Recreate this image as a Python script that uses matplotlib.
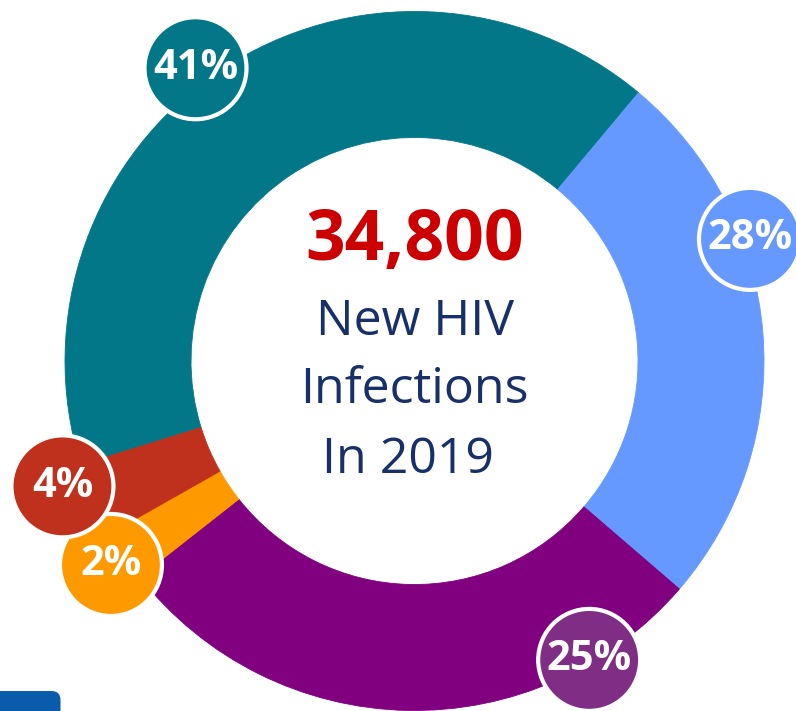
import numpy as np
import matplotlib.pyplot as plt
from matplotlib.patches import Circle, FancyBboxPatch

# slice order (clockwise from the left): teal, light blue, purple, orange, red
pct_labels = ["41%", "28%", "25%", "2%", "4%"]
# arc sizes as drawn in the picture (percent of the ring)
arc_shares = [40.9, 25.25, 28.1, 2.4, 3.4]
ring_colors = ["#017788", "#6699FF", "#800080", "#FF9900", "#BF311C"]
badge_colors = ["#017788", "#6699FF", "#7F2D85", "#FF9900", "#BF311C"]
# badge placement: (angle in degrees, distance from ring centre in px)
badge_polar = [(126.8, 365.6), (20.0, 357.0), (-59.7, 346.2), (-146.1, 365.7), (-160.4, 373.7)]

total = "34,800"
caption = ["New HIV", "Infections", "In 2019 "]

W, H = 796, 711
cx, cy = 414.5, H - 361
r_out, r_in = 349.5, 223.5

fig = plt.figure(figsize=(W / 100, H / 100), dpi=100)
ax = fig.add_axes([0, 0, 1, 1])

wedges, _ = ax.pie(arc_shares, colors=ring_colors, startangle=197.3, counterclock=False,
                   radius=r_out, center=(cx, cy),
                   wedgeprops=dict(width=r_out - r_in, linewidth=0.6))
for w, c in zip(wedges, ring_colors):
    w.set_edgecolor(c)

ax.set_xlim(0, W)
ax.set_ylim(0, H)
ax.set_aspect("equal")
ax.axis("off")

for lab, col, (ang, dist) in zip(pct_labels, badge_colors, badge_polar):
    bx = cx + dist * np.cos(np.radians(ang))
    by = cy + dist * np.sin(np.radians(ang))
    ax.add_patch(Circle((bx, by), 51, facecolor=col, edgecolor="white", linewidth=3, zorder=3))
    ax.text(bx, by, lab, color="white", fontsize=30, fontweight="bold", family="Open Sans",
            ha="center", va="center", zorder=4)

ax.text(cx, H - 260, total, color="#CC0000", fontsize=50, fontweight="bold",
        family="Open Sans", ha="center", va="baseline")
for line, base in zip(caption, [335, 403.3, 473.3]):
    ax.text(cx, H - base, line, color="#17306A", fontsize=36, family="Open Sans",
            ha="center", va="baseline")

# tab of blue in the lower-left corner
ax.add_patch(FancyBboxPatch((-20, -20), 80.5, 20 + H - 691, boxstyle="round,pad=0,rounding_size=9",
                            facecolor="#0B5BAD", edgecolor="none", zorder=2))

fig.savefig("out.png", dpi=100)
